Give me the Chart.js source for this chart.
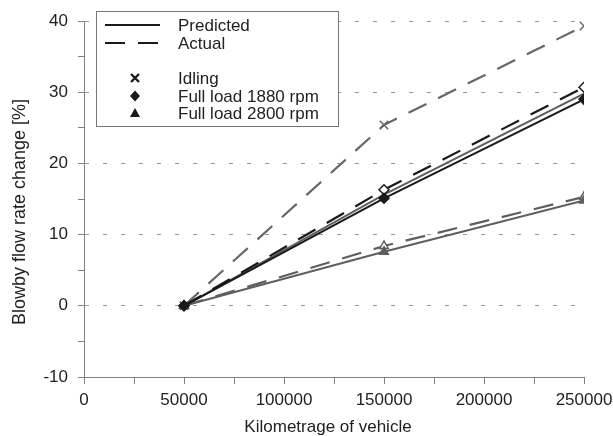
<!DOCTYPE html>
<html>
<head>
<meta charset="utf-8">
<script src="https://cdn.jsdelivr.net/npm/chart.js@4/dist/chart.umd.min.js"></script>
<style>
  html, body { margin: 0; padding: 0; background: #fff; }
  #wrap { width: 613px; height: 436px; }
</style>
</head>
<body>
<div id="wrap"><canvas id="chart" width="613" height="436"></canvas></div>
<script>
// Kilometerstand (x) und Änderungen der Blowby-Rate in %
const kilometrage = [50000, 150000, 250000];
const idlingPredicted = [0, 15.6, 29.8];
const idlingActual = [0, 25.4, 39.3];
const fl1880Predicted = [0, 15.1, 29.0];
const fl1880Actual = [0, 16.3, 30.7];
const fl2800Predicted = [0, 7.6, 14.8];
const fl2800Actual = [0, 8.4, 15.3];

const lineLegend = ['Predicted', 'Actual'];
const markerLegend = ['Idling', 'Full load 1880 rpm', 'Full load 2800 rpm'];
const xTitle = 'Kilometrage of vehicle';
const yTitle = 'Blowby flow rate change [%]';

const BLACK = '#1a1a1a';
const GRAY = '#5e5e5e';
const LIGHTGRAY = '#676767';
const AXIS = '#808080';
const FONT = '"Liberation Sans", Arial, sans-serif';

Chart.defaults.font.family = FONT;

function toPoints(values) {
    return kilometrage.map((km, i) => ({ x: km, y: values[i] }));
}

function serie(values, color, dashed, style, filled, radius) {
    return {
        data: toPoints(values),
        borderColor: color,
        borderWidth: dashed ? 2.2 : 2,
        borderDash: dashed ? [20, 13] : [],
        tension: 0,
        pointStyle: style,
        pointRadius: radius,
        pointBorderColor: color,
        pointBackgroundColor: filled ? color : '#fff',
        pointBorderWidth: 1.5,
        fill: false
    };
}

// Legende und Achsentitel selbst zeichnen
const extrasPlugin = {
    id: 'extras',
    afterDraw(chart) {
        const ctx = chart.ctx;
        const area = chart.chartArea;
        ctx.save();

        // Achsentitel
        ctx.fillStyle = '#222';
        ctx.textAlign = 'center';
        ctx.textBaseline = 'middle';
        ctx.font = '17px ' + FONT;
        ctx.fillText(xTitle, (area.left + area.right) / 2 - 6, 427);
        ctx.save();
        ctx.translate(20, (area.top + area.bottom) / 2 + 13);
        ctx.rotate(-Math.PI / 2);
        ctx.font = '18px ' + FONT;
        ctx.fillText(yTitle, 0, 0);
        ctx.restore();

        // Legendenbox
        const bx = area.left + 12.5, by = 11.5, bw = 242, bh = 115;
        ctx.fillStyle = '#fff';
        ctx.fillRect(bx, by, bw, bh);
        ctx.strokeStyle = '#777';
        ctx.lineWidth = 1;
        ctx.strokeRect(bx, by, bw, bh);

        const sx1 = bx + 8.5, sx2 = bx + 63.5, tx = bx + 81.5, mx = bx + 38.5;
        const lineRows = [25, 43];
        const markerRows = [78, 96, 113];

        ctx.strokeStyle = BLACK;
        ctx.lineWidth = 2;
        lineRows.forEach((y, i) => {
            ctx.setLineDash(i === 0 ? [] : [20, 13]);
            ctx.beginPath();
            ctx.moveTo(sx1, y);
            ctx.lineTo(sx2, y);
            ctx.stroke();
        });
        ctx.setLineDash([]);

        ctx.fillStyle = BLACK;
        // Kreuz
        ctx.lineWidth = 2.4;
        ctx.beginPath();
        ctx.moveTo(mx - 4, markerRows[0] - 4);
        ctx.lineTo(mx + 4, markerRows[0] + 4);
        ctx.moveTo(mx + 4, markerRows[0] - 4);
        ctx.lineTo(mx - 4, markerRows[0] + 4);
        ctx.stroke();
        // Raute
        ctx.beginPath();
        ctx.moveTo(mx, markerRows[1] - 5.5);
        ctx.lineTo(mx + 5, markerRows[1]);
        ctx.lineTo(mx, markerRows[1] + 5.5);
        ctx.lineTo(mx - 5, markerRows[1]);
        ctx.closePath();
        ctx.fill();
        // Dreieck
        ctx.beginPath();
        ctx.moveTo(mx, markerRows[2] - 5);
        ctx.lineTo(mx + 5, markerRows[2] + 4);
        ctx.lineTo(mx - 5, markerRows[2] + 4);
        ctx.closePath();
        ctx.fill();

        ctx.fillStyle = '#222';
        ctx.textAlign = 'left';
        ctx.font = '17px ' + FONT;
        lineLegend.forEach((t, i) => ctx.fillText(t, tx, lineRows[i] + 1));
        markerLegend.forEach((t, i) => ctx.fillText(t, tx, markerRows[i] + 1));

        ctx.restore();
    }
};

new Chart(document.getElementById('chart'), {
    type: 'line',
    data: {
        datasets: [
            serie(fl1880Predicted, BLACK, false, 'rectRot', true, 5),
            serie(fl1880Actual, BLACK, true, 'rectRot', false, 5),
            serie(idlingPredicted, GRAY, false, 'crossRot', true, 0),
            serie(idlingActual, LIGHTGRAY, true, 'crossRot', true, 6),
            serie(fl2800Predicted, GRAY, false, 'triangle', true, 5),
            serie(fl2800Actual, GRAY, true, 'triangle', false, 5)
        ]
    },
    options: {
        responsive: false,
        animation: false,
        devicePixelRatio: 1,
        layout: { padding: { left: 0, top: 21, right: 29, bottom: 0 } },
        plugins: {
            legend: { display: false },
            tooltip: { enabled: false }
        },
        scales: {
            x: {
                type: 'linear',
                min: 0,
                max: 250000,
                afterFit: s => {
                    s.height = 59;
                    s.paddingRight = 0;
                    s.paddingLeft = 0;
                },
                ticks: {
                    stepSize: 25000,
                    autoSkip: false,
                    maxRotation: 0,
                    padding: 6,
                    color: '#222',
                    font: { size: 17 },
                    callback: v => v % 50000 === 0 ? String(v) : ''
                },
                grid: { drawOnChartArea: false, tickColor: AXIS, tickLength: 7 },
                border: { color: AXIS, width: 1 }
            },
            y: {
                min: -10,
                max: 40,
                afterFit: s => { s.width = 84; },
                ticks: {
                    stepSize: 5,
                    padding: 10,
                    color: '#222',
                    font: { size: 17 },
                    callback: v => v % 10 === 0 ? String(v) : ''
                },
                grid: {
                    color: c => (c.tick && c.tick.value % 10 === 0 && c.tick.value > -10) ? '#9a9a9a' : 'rgba(0,0,0,0)',
                    tickColor: AXIS,
                    tickLength: 6,
                    tickBorderDash: []
                },
                border: { color: AXIS, width: 1, dash: [4, 14] }
            }
        }
    },
    plugins: [extrasPlugin]
});
</script>
</body>
</html>
